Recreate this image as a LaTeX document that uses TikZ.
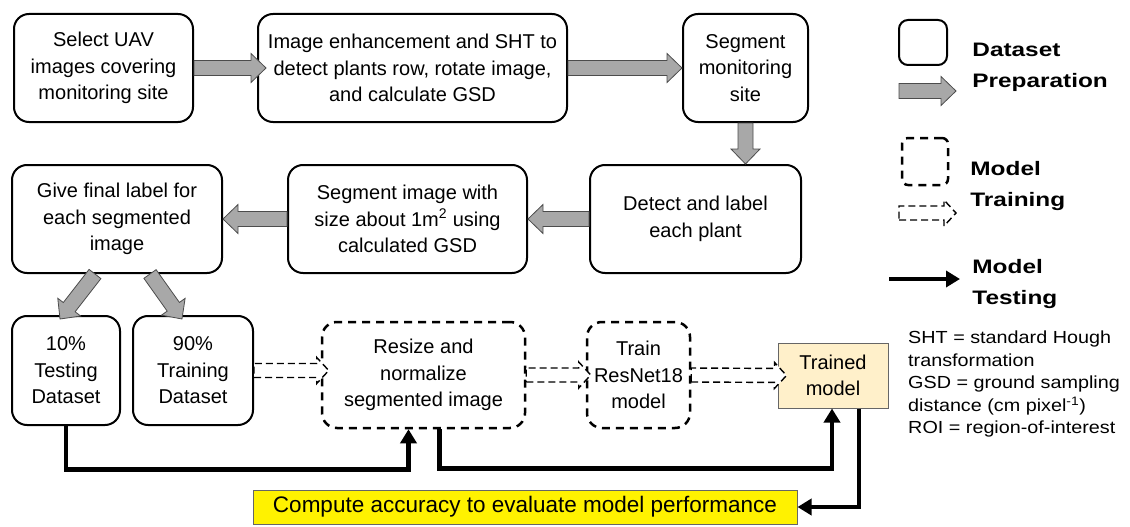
\documentclass[tikz,border=0pt]{standalone}
\usepackage{fontspec}
\setmainfont{Liberation Sans}
\usepackage{tikz}
\usetikzlibrary{shapes,arrows.meta,positioning,calc}
\usepackage{xcolor}
\definecolor{wheat}{RGB}{255,240,202}
\definecolor{arrgray}{RGB}{168,168,168}
\newcommand{\bxfont}{\fontsize{20}{26.5}\selectfont}
\newcommand{\lgfont}{\fontsize{19.5}{31}\selectfont\bfseries}
\newcommand{\ntfont}{\fontsize{17.5}{22.5}\selectfont}

% block arrow: style, from, to, half shaft, half head, head length
\newcommand{\blockarrow}[6]{%
  \path (#2) coordinate (baA) (#3) coordinate (baB);
  \pgfpointdiff{\pgfpointanchor{baA}{center}}{\pgfpointanchor{baB}{center}}%
  \pgfgetlastxy{\baDx}{\baDy}%
  \pgfmathsetmacro{\baAng}{atan2(\baDy,\baDx)}%
  \pgfmathsetmacro{\baLen}{veclen(\baDx,\baDy)}%
  \begin{scope}[shift={(baA)}, rotate=\baAng]
    \draw[#1] (0pt,-#4pt) -- ({\baLen pt-#6pt},-#4pt) -- ({\baLen pt-#6pt},-#5pt)
      -- (\baLen pt,0pt) -- ({\baLen pt-#6pt},#5pt) -- ({\baLen pt-#6pt},#4pt)
      -- (0pt,#4pt) -- cycle;
  \end{scope}}
\newcommand{\grayarrow}[2]{\blockarrow{grayarr}{#1}{#2}{7.5}{14.5}{15}}
\newcommand{\dasharrow}[2]{\blockarrow{hollowarr}{#1}{#2}{7}{13}{12}}

\begin{document}
\begin{tikzpicture}[
    x=1pt, y=-1pt,
    prep/.style={draw, line width=2pt, rounded corners=15pt, align=center, font=\bxfont, inner sep=2pt},
    train/.style={prep, line width=2.5pt, dash pattern=on 8pt off 6pt},
    trained/.style={draw=black!60, line width=1pt, fill=wheat, align=center, font=\bxfont},
    evalbox/.style={draw=black!60, line width=1pt, fill=yellow, font=\fontsize{22.5}{26}\selectfont},
    grayarr/.style={draw=black!70, line width=0.8pt, fill=arrgray, line join=miter},
    hollowarr/.style={draw, fill=white, line width=1.4pt, dash pattern=on 7pt off 4pt},
    testarr/.style={line width=4.5pt, -{Triangle[length=14pt,width=16pt]}},
    legtext/.style={font=\lgfont, align=left, anchor=west, xscale=1.25}
]
\useasboundingbox (0,0) rectangle (1130,527);

% Dataset preparation, row 1
\node[prep, minimum width=179, minimum height=108] (sel) at (103.5,68)
  {Select UAV\\images covering\\monitoring site};
\node[prep, minimum width=309, minimum height=108] (enh) at (412.5,68)
  {Image enhancement and SHT to\\detect plants row, rotate image,\\and calculate GSD};
\node[prep, minimum width=125, minimum height=108] (site) at (745.5,68)
  {Segment\\monitoring\\site};

% Dataset preparation, row 2
\node[prep, minimum width=210, minimum height=108] (lab) at (117,219)
  {Give final label for\\each segmented\\image};
\node[prep, minimum width=239, minimum height=108] (seg) at (407.5,219)
  {Segment image with\\size about 1m\textsuperscript{2} using\\calculated GSD};
\node[prep, minimum width=211, minimum height=108] (det) at (695.5,219)
  {Detect and label\\each plant};

% Row 3
\node[prep, minimum width=108, minimum height=109] (test) at (66,370.5)
  {10\%\\Testing\\Dataset};
\node[prep, minimum width=120, minimum height=109] (trn) at (193,370.5)
  {90\%\\Training\\Dataset};
\node[train, minimum width=203, minimum height=106] (res) at (423.5,375)
  {Resize and\\normalize\\segmented image};
\node[train, minimum width=103, minimum height=106] (net) at (638.5,375)
  {Train\\ResNet18\\model};
\node[trained, minimum width=110, minimum height=65] (mdl) at (833,375.5)
  {Trained\\model};
\node[evalbox, minimum width=544, minimum height=34] (acc) at (525,507)
  {Compute accuracy to evaluate model performance};

% gray arrows
\grayarrow{sel.east}{$(enh.west)+(9,0)$}
\grayarrow{enh.east}{site.west}
\grayarrow{site.south}{site.south |- det.north}
\grayarrow{det.west}{seg.east}
\grayarrow{seg.west}{lab.east}
\grayarrow{$(lab.south)+(-22,0)$}{$(test.north)+(-6,4)$}
\grayarrow{$(lab.south)+(33,0)$}{$(trn.north)+(-11,4)$}

% dashed arrows
\dasharrow{trn.east}{$(res.west |- trn.east)+(8,0)$}
\dasharrow{res.east}{$(net.west)+(5,0)$}
\dasharrow{net.east}{$(mdl.west)+(9,0)$}

% testing arrows
\draw[testarr] (test.south) |- ($(res.south)+(-15,40)$) -- ($(res.south)+(-15,0)$);
\draw[testarr] ($(res.south)+(16,0)$) |- ($(mdl.south)+(-1,60)$) -- ($(mdl.south)+(-1,0)$);
\draw[testarr] ($(mdl.south)+(26,0)$) |- (acc.east);

% Legend
\node[prep, minimum width=48, minimum height=45, rounded corners=9pt] (lgbox) at (923,42.5) {};
\coordinate (lga1) at (899,91);
\coordinate (lga2) at (956,91);
\grayarrow{lga1}{lga2}
\node[legtext] (lgprep) at (968,67) {Dataset\\Preparation};

\node[train, minimum width=46, minimum height=47, rounded corners=6pt] (lgdash) at (925,161.5) {};
\coordinate (lgb1) at (899,213);
\coordinate (lgb2) at (956,213);
\dasharrow{lgb1}{lgb2}
\node[legtext] (lgtrain) at (966,186) {Model\\Training};

\coordinate (lgc1) at (889,279);
\coordinate (lgc2) at (960,279);
\draw[testarr] (lgc1) -- (lgc2);
\node[legtext] (lgtest) at (968,284) {Model\\Testing};

% Notes
\node[font=\ntfont, align=left, anchor=north west, inner sep=0pt, xscale=1.13] (notes) at (908,331)
  {SHT = standard Hough\\transformation\\GSD = ground sampling\\distance (cm pixel\textsuperscript{-1})\\ROI = region-of-interest};

\end{tikzpicture}
\end{document}
